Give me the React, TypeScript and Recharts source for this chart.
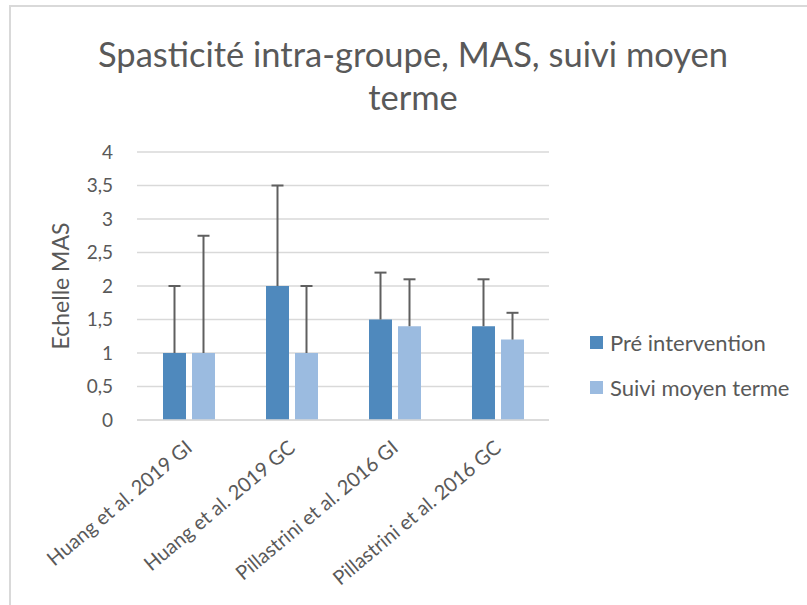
import { BarChart, Bar, XAxis, YAxis, CartesianGrid, Legend } from "recharts";

const categories = [
  "Huang et al. 2019 GI",
  "Huang et al. 2019 GC",
  "Pillastrini et al. 2016 GI",
  "Pillastrini et al. 2016 GC",
];
const preValues = [1, 2, 1.5, 1.4];
const preErrors = [1, 1.5, 0.7, 0.7];
const suiviValues = [1, 1, 1.4, 1.2];
const suiviErrors = [1.75, 1, 0.7, 0.4];
const yTicks = [0, 0.5, 1, 1.5, 2, 2.5, 3, 3.5, 4];

const seriesNames = ["Pré intervention", "Suivi moyen terme"];
const seriesColors = ["#4f89bd", "#9bbbe0"];

const data = categories.map((name, i) => ({
  name,
  pre: preValues[i],
  suivi: suiviValues[i],
}));

const FONT = "Lato, 'Open Sans', sans-serif";
const TEXT = "#595959";

// draws the plus-only error bar above a bar, using the bar's own pixel height
const errorLabel = (errors: number[]) => (props: any) => {
  const { x, y, width, height, value, index } = props;
  if (!value) return null;
  const len = (errors[index] * height) / value;
  const cx = x + width / 2;
  const top = y - len;
  return (
    <g>
      <line x1={cx} y1={y} x2={cx} y2={top} stroke="#5f5f5f" strokeWidth={2} />
      <line x1={cx - 6} y1={top} x2={cx + 6} y2={top} stroke="#5f5f5f" strokeWidth={2} />
    </g>
  );
};

const XTick = (props: any) => {
  const { x, y, payload } = props;
  return (
    <g transform={`translate(${x + 5},${y + 22})`}>
      <text
        textAnchor="end"
        transform="rotate(-40)"
        fill={TEXT}
        fontSize={20}
        fontFamily={FONT}
      >
        {payload.value}
      </text>
    </g>
  );
};

const LegendBox = () => (
  <div style={{ fontFamily: FONT, color: TEXT, fontSize: 22, textAlign: "left" }}>
    {seriesNames.map((n, i) => (
      <div
        key={n}
        style={{ display: "flex", alignItems: "center", height: 45 }}
      >
        <span
          style={{
            width: 13,
            height: 13,
            background: seriesColors[i],
            display: "inline-block",
            marginRight: 7,
          }}
        />
        {n}
      </div>
    ))}
  </div>
);

export default function App() {
  return (
    <div
      style={{
        position: "absolute",
        left: 0,
        top: 0,
        width: 807,
        height: 605,
        background: "#fff",
        overflow: "hidden",
      }}
    >
      <div
        style={{
          position: "absolute",
          left: 9,
          top: 5,
          width: 900,
          height: 700,
          borderLeft: "2px solid #d9d9d9",
          borderTop: "2px solid #d9d9d9",
        }}
      />
      <div
        style={{
          position: "absolute",
          left: 13,
          top: 32,
          width: 800,
          textAlign: "center",
          fontFamily: FONT,
          fontSize: 34.5,
          lineHeight: "43px",
          color: TEXT,
        }}
      >
        Spasticité intra-groupe, MAS, suivi moyen
        <br />
        terme
      </div>
      <BarChart
        width={807}
        height={605}
        data={data}
        margin={{ top: 152, right: 258, left: 0, bottom: 0 }}
        barSize={23}
        barGap={6}
        style={{ position: "absolute", left: 0, top: 0 }}
      >
        <CartesianGrid
          vertical={false}
          stroke="#d9d9d9"
          strokeWidth={1.5}
        />
        <XAxis
          dataKey="name"
          height={185}
          axisLine={{ stroke: "#d9d9d9", strokeWidth: 1.5 }}
          tickLine={false}
          interval={0}
          tick={<XTick />}
        />
        <YAxis
          width={137}
          domain={[0, 4]}
          ticks={yTicks}
          interval={0}
          axisLine={false}
          tickLine={false}
          tickMargin={18}
          tick={{ fill: TEXT, fontSize: 19, fontFamily: FONT }}
          tickFormatter={(v: number) => String(v).replace(".", ",")}
          label={{
            value: "Echelle MAS",
            angle: -90,
            position: "center",
            dx: -8,
            fill: TEXT,
            fontSize: 23,
            fontFamily: FONT,
          }}
        />
        <Legend
          layout="horizontal"
          align="center"
          verticalAlign="middle"
          content={<LegendBox />}
          wrapperStyle={{ left: 590, top: 320, width: 215 }}
        />
        <Bar
          dataKey="pre"
          name={seriesNames[0]}
          fill={seriesColors[0]}
          isAnimationActive={false}
          label={errorLabel(preErrors)}
        />
        <Bar
          dataKey="suivi"
          name={seriesNames[1]}
          fill={seriesColors[1]}
          isAnimationActive={false}
          label={errorLabel(suiviErrors)}
        />
      </BarChart>
    </div>
  );
}
